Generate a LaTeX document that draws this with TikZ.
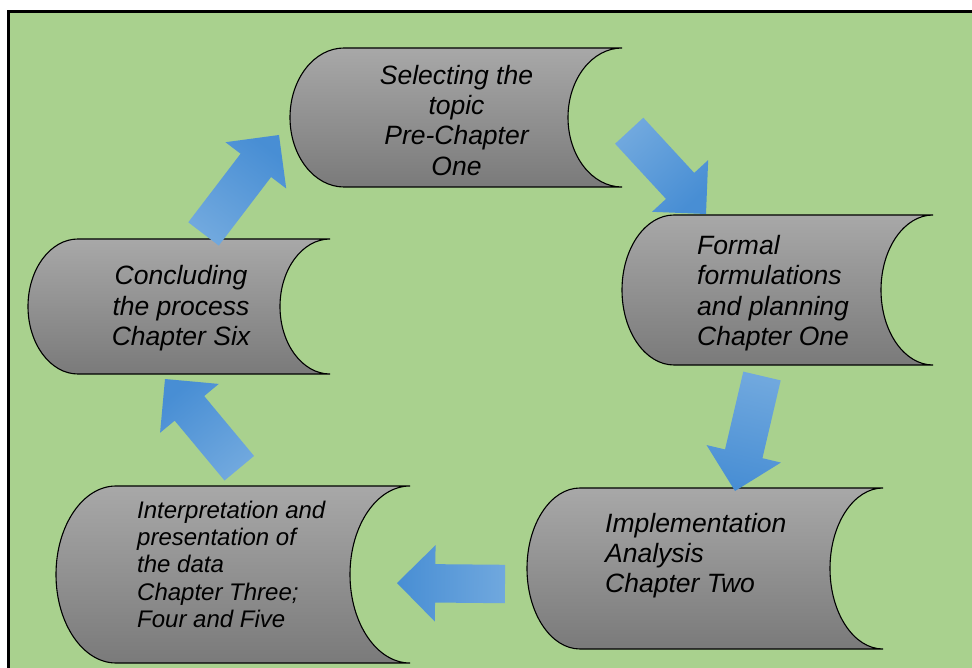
\documentclass[tikz,border=0pt]{standalone}
\usepackage{fontspec}
\setmainfont{Liberation Sans}
\usetikzlibrary{shapes.arrows,calc}
\definecolor{bggreen}{RGB}{169,209,142}
\definecolor{boxtop}{RGB}{168,168,168}
\definecolor{boxbot}{RGB}{122,122,122}
\definecolor{arrtail}{RGB}{112,168,222}
\definecolor{arrhead}{RGB}{72,142,212}
\tikzset{
  storagestyle/.style={draw=black, line width=1.1pt, top color=boxtop, bottom color=boxbot},
  barrow/.style={single arrow, single arrow head extend=19pt, minimum width=76pt,
    inner xsep=0pt, inner ysep=19pt, outer sep=0pt, draw=none,
    top color=arrhead, bottom color=arrtail},
  bigtxt/.style={inner sep=0pt, font=\fontsize{26.5}{30.3}\selectfont\itshape, text=black},
  smalltxt/.style={inner sep=0pt, font=\fontsize{24}{27.4}\selectfont\itshape, text=black}
}
% name, x1, y1, x2, y2, rx, ry
\newcommand\storagebox[7]{%
  \path[storagestyle] (#2+#6,#3) -- (#4,#3)
    arc[start angle=90,end angle=270,x radius=#6pt,y radius=#7pt]
    -- (#2+#6,#5)
    arc[start angle=270,end angle=90,x radius=#6pt,y radius=#7pt] -- cycle;
  \coordinate (#1) at ({(#2+#4)/2},{(#3+#5)/2});
}
% name, tail coordinate, tip coordinate
\newcommand\blockarrow[3]{%
  \path let \p1=(#2), \p2=(#3), \n1={atan2(\y2-\y1,\x2-\x1)}, \n2={veclen(\x2-\x1,\y2-\y1)} in
    node[barrow, shading angle={\n1-90}, rotate=\n1, minimum height={\n2*1pt}, anchor=tip] (#1) at (#3) {};
}
\begin{document}
\begin{tikzpicture}[x=1pt,y=-1pt]
\useasboundingbox (0,0) rectangle (972,668);
\fill[white] (0,0) rectangle (972,668);
\fill[bggreen] (8,11.5) rectangle (972,668);
\draw[line width=3pt] (8,668) -- (8,11.5) -- (972,11.5);

% storage shapes
\storagebox{b1}{290}{48}{622}{187}{54}{69.5}
\storagebox{b2}{622}{215}{933}{365}{52}{75}
\storagebox{b3}{527}{488}{883}{649}{53}{80.5}
\storagebox{b4}{56}{486}{410}{663}{60}{88.5}
\storagebox{b5}{28}{239}{330}{374}{50}{67.5}

% texts
\node[bigtxt, align=center, anchor=north] (t1) at (456.5,64.7)
  {Selecting the\\topic\\Pre-Chapter\\One};
\node[bigtxt, align=left, anchor=north west] (t2) at (697,235)
  {Formal\\formulations\\and planning\\Chapter One};
\node[bigtxt, align=left, anchor=north west] (t3) at (605,512.7)
  {Implementation\\Analysis\\Chapter Two};
\node[smalltxt, align=left, anchor=north west] (t4) at (137,500.5)
  {Interpretation and\\presentation of\\the data\\Chapter Three;\\Four and Five};
\node[bigtxt, align=center, anchor=north] (t5) at (181,265.4)
  {Concluding\\the process\\Chapter Six};

% block arrows
\coordinate (a1s) at (629,130.5); \coordinate (a1e) at (706,214);
\coordinate (a2s) at (762,376);   \coordinate (a2e) at (735,491);
\coordinate (a3s) at (505,584);   \coordinate (a3e) at (397,583);
\coordinate (a4s) at (239.5,468.5); \coordinate (a4e) at (165,379);
\coordinate (a5s) at (203.5,234); \coordinate (a5e) at (279,135);
\blockarrow{a1}{a1s}{a1e}
\blockarrow{a2}{a2s}{a2e}
\blockarrow{a3}{a3s}{a3e}
\blockarrow{a4}{a4s}{a4e}
\blockarrow{a5}{a5s}{a5e}
\end{tikzpicture}
\end{document}
